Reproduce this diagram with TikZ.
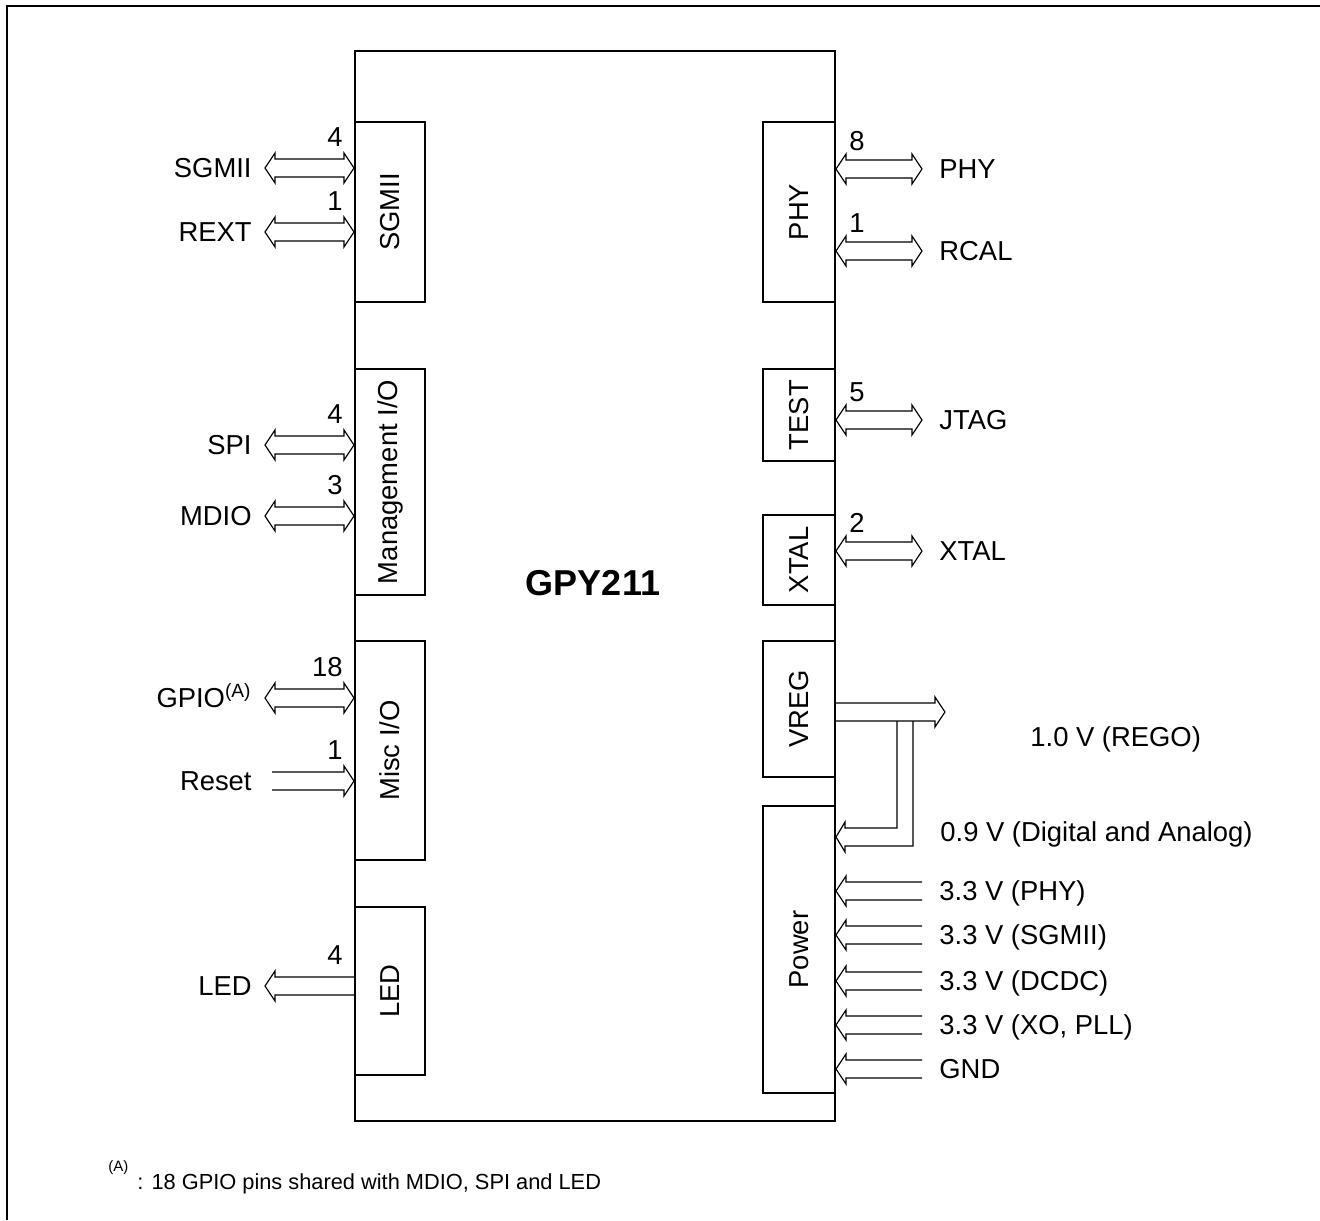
\documentclass[tikz,border=0pt]{standalone}
\usepackage{fontspec}
\setmainfont{Liberation Sans}
\usetikzlibrary{positioning}
\usetikzlibrary{calc}

\newcommand{\sigfont}{\fontsize{13.7}{16}\selectfont}

\begin{document}
\begin{tikzpicture}[x=0.5pt, y=-0.5pt,
chipbox/.style={rectangle, draw=black, line width=1pt, minimum width=240pt, minimum height=535pt},
lblock/.style={rectangle, draw=black, line width=1pt, minimum width=35pt},
rblock/.style={rectangle, draw=black, line width=1pt, minimum width=36pt},
boxtext/.style={rotate=90, font=\sigfont},
sigl/.style={anchor=east, inner xsep=6.5pt, inner ysep=0pt, text height=9.8pt, text depth=0pt, font=\sigfont},
sigr/.style={anchor=west, inner xsep=8.5pt, inner ysep=0pt, text height=9.8pt, text depth=0pt, font=\sigfont},
cntl/.style={anchor=south east, inner sep=0pt, xshift=-5.5pt, yshift=10.5pt, font=\sigfont},
cntr/.style={anchor=south west, inner sep=0pt, xshift=6.5pt, yshift=9pt, font=\sigfont},
bus2/.style={line width=0.6pt, to path={let \p1=(\tikztostart), \p2=(\tikztotarget) in
  (\x1,\y1) -- (\x1+5pt,\y1+7.5pt) -- (\x1+5pt,\y1+4.5pt) -- (\x2-5pt,\y1+4.5pt) -- (\x2-5pt,\y1+7.5pt)
  -- (\x2,\y1) -- (\x2-5pt,\y1-7.5pt) -- (\x2-5pt,\y1-4.5pt) -- (\x1+5pt,\y1-4.5pt) -- (\x1+5pt,\y1-7.5pt) -- cycle}},
busr/.style={line width=0.6pt, to path={let \p1=(\tikztostart), \p2=(\tikztotarget) in
  (\x1,\y1+4.5pt) -- (\x2-5pt,\y1+4.5pt) -- (\x2-5pt,\y1+7.5pt) -- (\x2,\y1)
  -- (\x2-5pt,\y1-7.5pt) -- (\x2-5pt,\y1-4.5pt) -- (\x1,\y1-4.5pt)}},
busl/.style={line width=0.6pt, to path={let \p1=(\tikztostart), \p2=(\tikztotarget) in
  (\x1,\y1+4.5pt) -- (\x2+5pt,\y1+4.5pt) -- (\x2+5pt,\y1+7.5pt) -- (\x2,\y1)
  -- (\x2+5pt,\y1-7.5pt) -- (\x2+5pt,\y1-4.5pt) -- (\x1,\y1-4.5pt)}},
]
\useasboundingbox (0,0) rectangle (1320,1220);
\draw[line width=1pt] (7,1220) -- (7,6) -- (1320,6);

%Chip and blocks
\node[chipbox]                                                              (chip)  at (595,586)  {};
\node[font=\bfseries\fontsize{18}{21}\selectfont]                           (chipname) at (593,583) {GPY211};
\node[lblock, minimum height=90pt,   label={[boxtext]center:SGMII}]          (sgmii) at (390,212)  {};
\node[lblock, minimum height=113pt,  label={[boxtext]center:Management I/O}] (mgmt)  at (390,482)  {};
\node[lblock, minimum height=109.5pt,label={[boxtext]center:Misc I/O}]       (misc)  at (390,750.5){};
\node[lblock, minimum height=84pt,   label={[boxtext]center:LED}]            (led)   at (390,991)  {};
\node[rblock, minimum height=90pt,   label={[boxtext]center:PHY}]            (phy)   at (799,212)  {};
\node[rblock, minimum height=46pt,   label={[boxtext]center:TEST}]           (test)  at (799,415)  {};
\node[rblock, minimum height=45pt,   label={[boxtext]center:XTAL}]           (xtal)  at (799,560)  {};
\node[rblock, minimum height=68pt,   label={[boxtext]center:VREG}]           (vreg)  at (799,709)  {};
\node[rblock, minimum height=143.5pt,label={[boxtext]center:Power}]          (power) at (799,949.5){};

%Signals left
\node[sigl] (sgmiiL) at (265,168) {SGMII};
\node[sigl] (rextL)  at (265,232) {REXT};
\node[sigl] (spiL)   at (265,445) {SPI};
\node[sigl] (mdioL)  at (265,516) {MDIO};
\node[sigl] (gpioL)  at (265,698) {GPIO\textsuperscript{(A)}};
\node[sigl, inner xsep=10pt] (resetL) at (272,781) {Reset};
\node[sigl] (ledL)   at (265,986) {LED};

%Signals right
\node[sigr] (phyR)  at (922,169) {PHY};
\node[sigr] (rcalR) at (922,251) {RCAL};
\node[sigr] (jtagR) at (922,420) {JTAG};
\node[sigr] (xtalR) at (922,551) {XTAL};
\node[sigr] (pwrA)  at (922,891) {3.3 V (PHY)};
\node[sigr] (pwrB)  at (922,935) {3.3 V (SGMII)};
\node[sigr] (pwrC)  at (922,981) {3.3 V (DCDC)};
\node[sigr] (pwrD)  at (922,1025) {3.3 V (XO, PLL)};
\node[sigr] (gndR)  at (922,1069) {GND};
\node[sigr, inner xsep=0pt] (regoL) at (1030,737) {1.0 V (REGO)};
\node[sigr, inner xsep=0pt] (coreL) at (940,832) {0.9 V (Digital and Analog)};
\coordinate (vregtip) at (945,712);

%Buses
\draw[bus2] (sgmiiL.east) to (sgmiiL.east -| sgmii.west);
\draw[bus2] (rextL.east) to (rextL.east -| sgmii.west);
\draw[bus2] (spiL.east) to (spiL.east -| mgmt.west);
\draw[bus2] (mdioL.east) to (mdioL.east -| mgmt.west);
\draw[bus2] (gpioL.east) to (gpioL.east -| misc.west);
\draw[busr] (resetL.east) to (resetL.east -| misc.west);
\draw[busl] (ledL.east -| led.west) to (ledL.east);
\draw[bus2] (phyR.west -| phy.east) to (phyR.west);
\draw[bus2] (rcalR.west -| phy.east) to (rcalR.west);
\draw[bus2] (jtagR.west -| test.east) to (jtagR.west);
\draw[bus2] (xtalR.west -| xtal.east) to (xtalR.west);
\draw[busl] (pwrA.west) to (pwrA.west -| power.east);
\draw[busl] (pwrB.west) to (pwrB.west -| power.east);
\draw[busl] (pwrC.west) to (pwrC.west -| power.east);
\draw[busl] (pwrD.west) to (pwrD.west -| power.east);
\draw[busl] (gndR.west) to (gndR.west -| power.east);
\draw[busr] (vregtip -| vreg.east) to (vregtip);
\draw[line width=0.6pt] (897,721) |- (845,828) -- (845,822) -- (power.east |- 0,837) -- (845,852) -- (845,846) -| (913,721);

%Pin counts
\node[cntl] at (sgmiiL.east -| sgmii.west) {4};
\node[cntl] at (rextL.east -| sgmii.west) {1};
\node[cntl] at (spiL.east -| mgmt.west) {4};
\node[cntl] at (mdioL.east -| mgmt.west) {3};
\node[cntl] at (gpioL.east -| misc.west) {18};
\node[cntl] at (resetL.east -| misc.west) {1};
\node[cntl] at (ledL.east -| led.west) {4};
\node[cntr] at (phyR.west -| phy.east) {8};
\node[cntr] at (rcalR.west -| phy.east) {1};
\node[cntr] at (jtagR.west -| test.east) {5};
\node[cntr] at (xtalR.west -| xtal.east) {2};

%Footnote
\node[anchor=west, inner sep=0pt, font=\fontsize{7.5}{9}\selectfont] (noteA) at (108,1168) {(A)};
\node[anchor=west, inner sep=0pt, font=\fontsize{10.9}{13}\selectfont] (noteT) at (137,1184) {: 18 GPIO pins shared with MDIO, SPI and LED};
\end{tikzpicture}
\end{document}
